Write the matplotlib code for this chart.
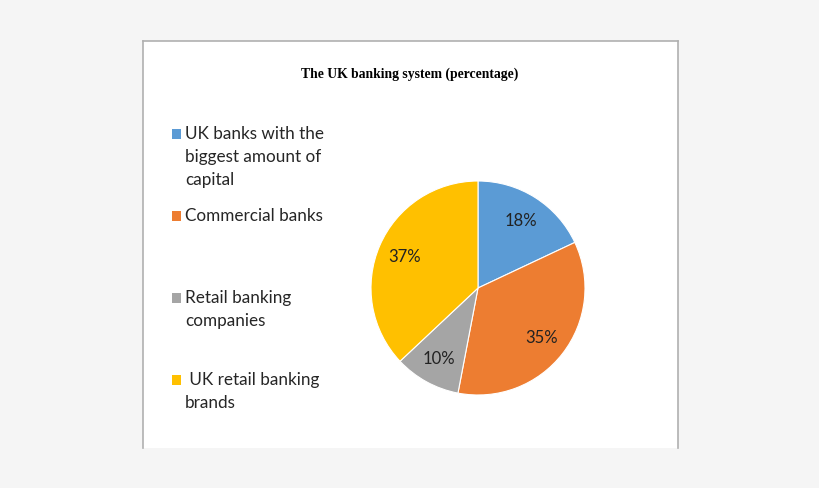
import matplotlib.pyplot as plt
from matplotlib.patches import Rectangle
from matplotlib.lines import Line2D

title = "The UK banking system (percentage)"
categories = [
    "UK banks with the\nbiggest amount of\ncapital",
    "Commercial banks",
    "Retail banking\ncompanies",
    " UK retail banking\nbrands",
]
shares = [18, 35, 10, 37]
colors = ["#5B9BD5", "#ED7D31", "#A5A5A5", "#FFC000"]

W, H = 820, 489
fig = plt.figure(figsize=(W / 100, H / 100), dpi=100)
fig.patch.set_facecolor("#f5f5f5")

# white chart area with grey border (bottom edge cut off)
x0, x1, y0, y1 = 143 / W, 678 / W, 1 - 449 / H, 1 - 42 / H
fig.patches.append(Rectangle((x0, y0), x1 - x0, y1 - y0, transform=fig.transFigure,
                             facecolor="white", edgecolor="none", zorder=-1))
for xs, ys in [([x0, x0], [y0, y1]), ([x0, x1], [y1, y1]), ([x1, x1], [y1, y0])]:
    fig.lines.append(Line2D(xs, ys, transform=fig.transFigure, color="#b0b0b0", lw=1.2))

fig.text(410 / W, 1 - 74 / H, title, ha="center", va="center",
         family="Liberation Serif", weight="bold", fontsize=9.8)

# pie
cx, cy, r = 478, 289, 107
ax = fig.add_axes([(cx - r) / W, 1 - (cy + r) / H, 2 * r / W, 2 * r / H])
ax.pie(shares, colors=colors, startangle=90, counterclock=False,
       autopct=lambda p: f"{p:.0f}%", pctdistance=0.75, radius=1,
       wedgeprops=dict(linewidth=0.8, edgecolor="white"),
       textprops=dict(fontsize=12, family="Lato", color="#222222"))
ax.set_xlim(-1, 1)
ax.set_ylim(-1, 1)
ax.set_aspect("auto")
ax.axis("off")

# legend, entries on fixed steps
top, step = 135, 82
for i, (lab, col) in enumerate(zip(categories, colors)):
    y = top + i * step
    fig.patches.append(Rectangle((172 / W, 1 - (y + 5) / H), 9 / W, 10 / H,
                                 transform=fig.transFigure, facecolor=col,
                                 edgecolor="none"))
    fig.text(185 / W, 1 - (y - 9) / H, lab, ha="left", va="top",
             family="Lato", fontsize=12.3, color="#262626", linespacing=1.52)

fig.savefig("out.png", dpi=100, facecolor=fig.get_facecolor())
